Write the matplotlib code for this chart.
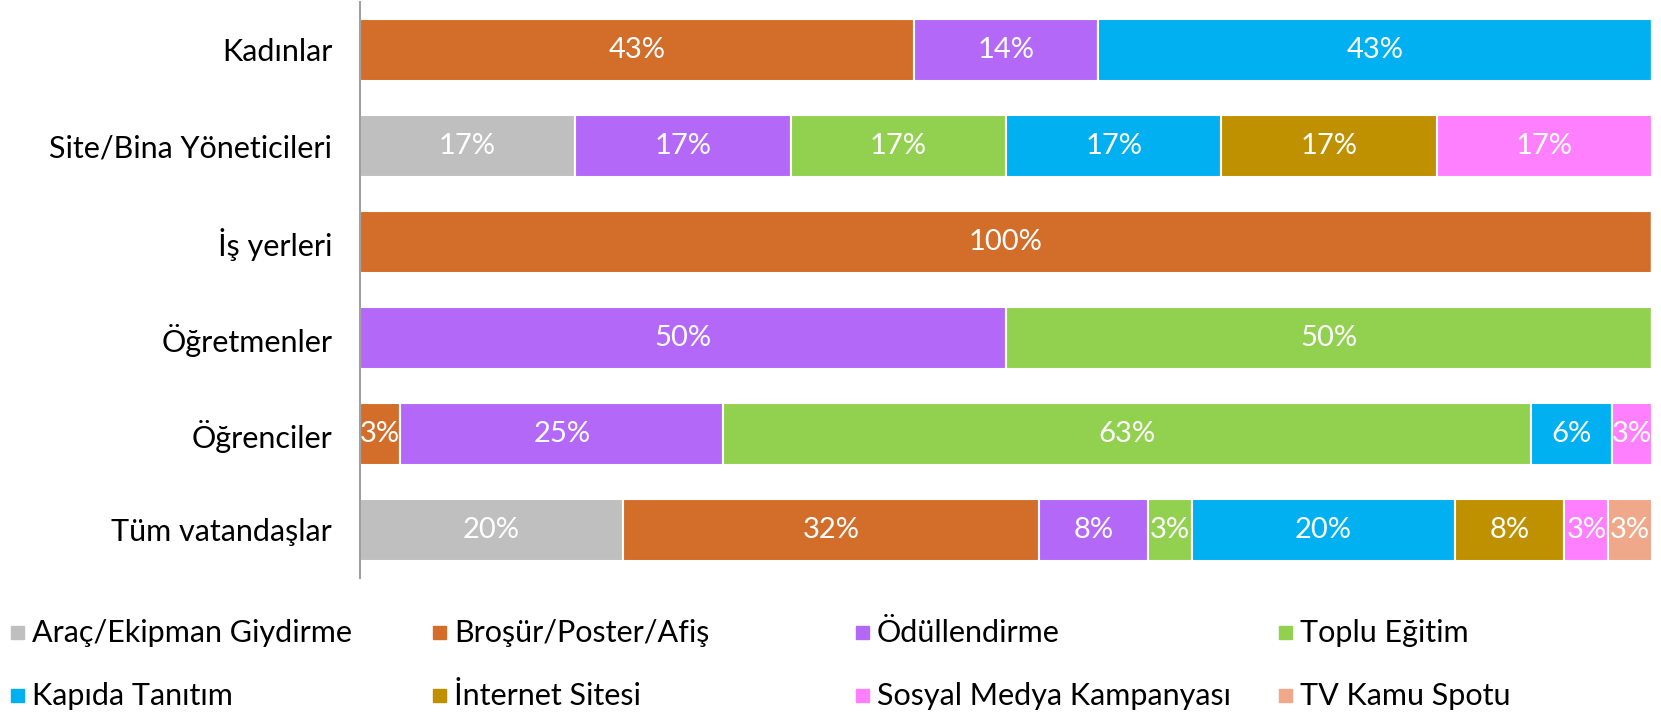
import matplotlib.pyplot as plt
from matplotlib.patches import Rectangle

plt.rcParams['font.family'] = ['Lato', 'DejaVu Sans']

# groups, top to bottom
groups = ['Kadınlar', 'Site/Bina Yöneticileri', 'İş yerleri',
          'Öğretmenler', 'Öğrenciler', 'Tüm vatandaşlar']

methods = ['Araç/Ekipman Giydirme', 'Broşür/Poster/Afiş', 'Ödüllendirme',
           'Toplu Eğitim', 'Kapıda Tanıtım', 'İnternet Sitesi',
           'Sosyal Medya Kampanyası', 'TV Kamu Spotu']

colors = ['#BFBFBF', '#D26D2A', '#B468F8', '#92D050',
          '#00B0F0', '#BF9000', '#FF80FF', '#F0A88A']

# number of answers per group for each method
arac    = [0, 1, 0, 0, 0, 12]
brosur  = [3, 0, 1, 0, 1, 19]
odul    = [1, 1, 0, 1, 8, 5]
toplu   = [0, 1, 0, 1, 20, 2]
kapida  = [3, 1, 0, 0, 2, 12]
internet = [0, 1, 0, 0, 0, 5]
sosyal  = [0, 1, 0, 0, 1, 2]
tv      = [0, 0, 0, 0, 0, 2]
counts = [arac, brosur, odul, toplu, kapida, internet, sosyal, tv]

totals = [sum(c[i] for c in counts) for i in range(len(groups))]

fig = plt.figure(figsize=(16.61, 7.14), dpi=100)
ax = fig.add_axes([0.2167, 0.1905, 0.7779, 0.8067])

y = list(range(len(groups)))
left = [0.0] * len(groups)
for m, (series, col) in enumerate(zip(counts, colors)):
    share = [series[i] / totals[i] * 100 for i in range(len(groups))]
    ax.barh(y, share, left=left, height=0.65, color=col,
            edgecolor='white', linewidth=1.5)
    for i, s in enumerate(share):
        if s > 0:
            ax.text(left[i] + s / 2, y[i], f'{int(s + 0.5)}%', ha='center',
                    va='center', color='white', fontsize=21)
    left = [left[i] + share[i] for i in range(len(groups))]

ax.set_xlim(0, 100)
ax.set_ylim(len(groups) - 0.5, -0.5)
ax.set_yticks(y)
ax.set_yticklabels(groups, fontsize=22)
ax.tick_params(axis='y', length=0, pad=20)
ax.set_xticks([])
for side in ['top', 'right', 'bottom']:
    ax.spines[side].set_visible(False)
ax.spines['left'].set_color('#A0A0A0')
ax.spines['left'].set_linewidth(1.5)

# legend in two rows of four
W, H = 1661, 714
col_x = [11, 433, 856, 1279]
row_y = [633, 696]
for k, (name, col) in enumerate(zip(methods, colors)):
    r, c = divmod(k, 4)
    x0, y0 = col_x[c], row_y[r]
    fig.patches.append(Rectangle((x0 / W, 1 - (y0 + 6) / H), 13 / W, 13 / H,
                                 transform=fig.transFigure, color=col))
    fig.text((x0 + 21) / W, 1 - y0 / H, name, fontsize=22,
             va='center', ha='left')

fig.savefig('out.png', dpi=100)
